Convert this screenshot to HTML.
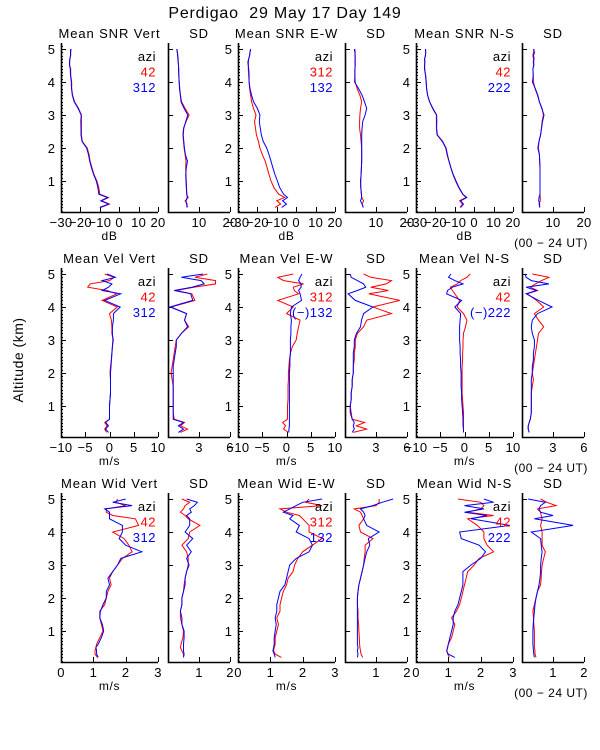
<!DOCTYPE html>
<html><head><meta charset="utf-8">
<style>
html,body{margin:0;padding:0;background:#fff;}
svg{display:block;font-family:"Liberation Sans",sans-serif;}
text{fill:#000;white-space:pre;}
</style></head>
<body>
<svg id="chart" width="600" height="750" viewBox="0 0 600 750" xmlns="http://www.w3.org/2000/svg" xml:space="preserve">
<text x="285" y="18" font-size="16" letter-spacing="0.8" text-anchor="middle">Perdigao  29 May 17 Day 149</text>
<text x="0" y="0" font-size="14" letter-spacing="0.5" text-anchor="middle" transform="translate(23,360) rotate(-90)">Altitude (km)</text>
</svg>
<script>
const alt = [0.2,0.3,0.4,0.5,0.6,0.8,1.0,1.2,1.4,1.6,1.8,2.0,2.2,2.4,2.6,2.8,3.0,3.2,3.4,3.6,3.8,4.0,4.2,4.4,4.5,4.6,4.7,4.8,4.9,5.0];

// Row 1: SNR
const snrVertRed = [-9.5,-5,-9,-5.5,-10,-10.5,-11.5,-13,-14,-15,-15.5,-16.5,-19,-19.5,-19.5,-19.5,-19.5,-21,-23,-24,-24.5,-24.5,-25,-25,-25.5,-25.5,-25.5,-25,-25,-24.8];
const snrVertBlue = [-10,-5.5,-9.5,-6,-10.5,-11,-11.8,-13.2,-14.3,-15.2,-15.8,-16.8,-19.2,-19.7,-19.7,-19.8,-19.6,-21.2,-23.2,-24.2,-24.6,-24.7,-25.1,-25.2,-25.6,-25.6,-25.4,-25.1,-25.1,-25];
const sdSnrVertRed = [6,6.2,5.5,6.5,6,6,5.9,5.8,5.7,5.8,5.5,5.2,5,4.8,5,5.8,6.8,5.5,4.4,4,3.8,3.6,3.5,3.5,3.4,3.3,3.3,3.2,3,2.8];
const sdSnrVertBlue = [6.3,6,5.8,6.2,6.1,5.9,5.8,5.7,5.9,6.3,5.6,5.3,5.1,4.9,5.1,5.7,6.4,5.2,4.2,4,3.7,3.6,3.5,3.4,3.4,3.3,3.2,3.1,3,2.9];
const snrEWRed = [-11,-8,-10,-6,-9,-11.5,-13,-14,-15,-16,-17.5,-18.7,-19.5,-20.5,-21,-21.5,-20.7,-22,-23,-23.5,-24,-24.3,-24.5,-24.7,-24.7,-25,-24.5,-24,-23.8,-23.5];
const snrEWBlue = [-7.5,-5,-7,-4.5,-6.5,-8.5,-9.7,-11,-12,-13,-14,-15.2,-17,-18,-18.5,-19,-18.7,-20,-22,-23,-23.8,-24.3,-24.3,-24.5,-24.7,-24.7,-24.5,-24,-23.8,-23.5];
const sdSnrEWRed = [5.9,5.5,6,5.4,5.3,5.1,5.1,5.2,5.3,5.4,5.4,5.4,5.2,5,4.7,4.7,4.8,5,5.4,4.8,3.9,3.3,3.2,3.2,3.3,3.3,3.3,3.2,3.3,3.2];
const sdSnrEWBlue = [5.9,5.5,5,5.4,5.3,5.1,5.0,5.2,5.3,5.4,5.4,5.4,5.4,5.4,5.5,5.7,6.5,7,6.3,5.5,4.4,3.1,3.2,3.2,3.3,3.2,3.3,3.3,3.2,3];
const snrNSRed = [-7.3,-6,-7.5,-4.2,-6,-8,-9.6,-11,-12,-13,-14,-14.7,-16.5,-19.2,-19.5,-19.5,-19.5,-21.5,-23,-24,-24.5,-24.7,-25,-25.5,-25.5,-25.5,-25.5,-25.2,-25,-25];
const snrNSBlue = [-7,-5.5,-7,-3.8,-5.8,-7.8,-9.4,-10.8,-12,-13,-13.8,-14.5,-16.3,-19,-19.4,-19.3,-19.4,-21.3,-23,-24,-24.6,-24.8,-25.1,-25.6,-25.6,-25.4,-25.6,-25.1,-25,-25.1];
const sdSnrNSRed = [5.8,5.5,5.9,5.9,5.8,5.8,5.8,5.8,5.8,5.7,5.6,5.3,5.5,6,6.3,6.5,6.9,6.5,5.6,5,4.2,3.7,3.6,3.5,3.8,3.8,3.7,3.5,3.7,3.9];
const sdSnrNSBlue = [5.6,5.7,5.4,5.5,5.8,5.8,5.8,5.8,5.8,5.7,5.6,5.1,5.5,6,6.3,6.6,7.1,6.4,5.6,5.1,4.3,3.4,3.6,3.5,3.8,3.6,3.9,3.7,4,3.7];

// Row 2: velocity
const velVertRed = [-0.6,-1,-0.5,-1,0,0,0,0.1,0.2,0.2,0.2,0.1,0.2,0.4,0.5,0.6,0.8,0.5,0.5,0.4,0,1.6,-1.5,1.5,-0.5,-4.5,-4,0,1,-1];
const velVertBlue = [-0.2,-0.8,-0.2,-0.8,0,0,0,0.1,0.2,0.2,0.2,0.2,0.3,0.4,0.5,0.6,0.7,0.6,0.6,0.8,0.8,2.2,-1,2.3,-1.5,-0.2,0.5,-1.5,1.2,-0.5];
const sdVelVertRed = [1.2,1.9,1.2,1.6,0.6,0.5,0.5,0.5,0.5,0.5,0.4,0.3,0.4,0.5,0.6,0.7,0.8,1.3,2.0,1.6,1.8,0.3,2.6,2.3,0.8,2.5,4.6,4.6,2.6,3.8];
const sdVelVertBlue = [1.0,1.5,1.0,1.5,0.5,0.5,0.5,0.5,0.5,0.5,0.5,0.5,0.5,0.6,0.7,0.8,0.8,1.3,1.9,1.6,1.8,0.2,2.4,2.2,0.6,2.3,3.5,3.2,1.3,3.4];
const velEWRed = [0.4,-0.6,-0.2,-0.8,0.2,0.2,0.2,0.3,0.3,0.3,0.4,0.4,0.5,0.6,0.8,1.2,2,2.2,2.5,2.8,0,1.4,-1.8,2.5,1.6,1.4,3.5,-0.6,-1.8,1.4];
const velEWBlue = [0.5,0.5,0.6,0.6,0.6,0.6,0.6,0.6,0.6,0.6,0.6,0.6,0.7,0.7,0.8,0.8,0.8,0.9,0.9,1,0.8,1,3.1,2.8,2.5,3,3,2.5,2.8,3.2];
const sdVelEWRed = [0.8,2.1,1.1,1.9,0.7,0.6,0.5,0.6,0.6,0.7,0.7,0.8,0.8,0.9,0.9,1,1.0,1.2,1.8,2.1,4.5,2.7,5.3,2.3,4.2,2.5,4.0,4.5,2.5,1.8];
const sdVelEWBlue = [0.7,0.9,0.8,0.9,0.7,0.5,0.5,0.6,0.6,0.7,0.7,0.8,0.8,0.8,0.8,0.9,0.9,1.1,1.5,1.6,1.8,2.7,1.0,0.3,1.2,2,1.8,1.2,0.6,0.5];
const velNSRed = [-0.2,-0.2,-0.2,-0.2,-0.2,-0.2,-0.3,-0.4,-0.5,-0.5,-0.5,-0.5,-0.5,-0.4,-0.4,-0.3,-0.3,-0.2,0.2,0.5,-0.2,-1.5,-1,-2,-2.5,-2.9,-1.5,-0.8,0.5,1.2];
const velNSBlue = [-0.2,-0.2,-0.3,-0.3,-0.3,-0.4,-0.5,-0.6,-0.6,-0.7,-0.7,-0.7,-0.8,-0.8,-0.9,-0.9,-1,-1,-1,-0.9,-0.8,-2,-0.6,-3.7,-3.5,-2.5,-0.3,-2,-3.3,-2.8];
const sdVelNSRed = [0.7,0.6,0.6,0.7,0.8,0.9,0.9,0.9,0.9,1,1.1,1.0,1.1,1.2,1.3,1.4,1.5,1.6,2.1,1.6,1.2,2.1,1.4,0.5,1.5,0.8,1.3,1.9,2.6,1.0];
const sdVelNSBlue = [0.7,0.6,0.6,0.7,0.8,0.9,0.9,0.9,0.9,0.9,0.9,1.0,1.0,1.1,1.1,1.2,1.2,1.0,0.9,1.0,1.5,2.9,1.6,0.4,1.4,0.4,2.6,0.9,0.4,0.3];

// Row 3: width
const widVertRed = [1.13,1.05,1.05,1.08,1.1,1.2,1.3,1.25,1.2,1.2,1.35,1.4,1.45,1.55,1.5,1.6,1.75,1.9,2.2,2.1,1.95,1.6,2.4,2.3,1.6,1.4,1.4,2.0,1.7,1.75];
const widVertBlue = [1.15,1.1,1.1,1.08,1.15,1.25,1.32,1.28,1.2,1.22,1.3,1.4,1.4,1.5,1.45,1.6,1.75,1.85,2.5,2.0,1.8,1.9,1.9,1.5,1.5,1.5,1.35,2.2,1.6,2.0];
const sdWidVertRed = [0.5,0.5,0.45,0.4,0.42,0.48,0.5,0.45,0.4,0.4,0.45,0.45,0.5,0.52,0.55,0.6,0.65,0.65,0.6,0.45,0.65,0.7,1.03,0.65,0.55,0.4,0.5,0.55,0.7,0.45];
const sdWidVertBlue = [0.5,0.52,0.5,0.5,0.5,0.52,0.52,0.45,0.45,0.4,0.45,0.45,0.5,0.55,0.55,0.6,0.68,0.6,0.75,0.6,0.8,0.55,0.7,0.7,0.6,0.75,0.7,0.85,0.95,0.6];
const widEWRed = [1.34,1.15,1.1,1.12,1.15,1.15,1.2,1.25,1.2,1.3,1.3,1.35,1.4,1.5,1.55,1.7,1.75,1.85,2.0,2.3,2.6,2.2,2.2,2.0,1.9,1.5,1.3,2.6,2.1,2.2];
const widEWBlue = [1.15,1.12,1.08,1.1,1.12,1.12,1.15,1.18,1.15,1.2,1.2,1.25,1.3,1.45,1.5,1.55,1.6,1.8,2.2,2.3,2.2,1.8,1.9,1.6,1.7,1.4,1.6,1.8,2.0,2.6];
const sdWidEWRed = [0.57,0.52,0.5,0.48,0.47,0.46,0.45,0.44,0.42,0.42,0.4,0.4,0.42,0.45,0.5,0.55,0.6,0.62,0.65,0.65,0.9,0.5,0.45,0.6,0.55,0.5,0.3,1.0,1.1,1.1];
const sdWidEWBlue = [0.4,0.42,0.4,0.42,0.4,0.4,0.4,0.4,0.4,0.4,0.4,0.4,0.42,0.45,0.5,0.55,0.6,0.65,0.7,0.8,0.75,1.1,0.7,0.6,0.65,0.6,0.5,0.9,1.2,1.55];
const widNSRed = [1.03,0.98,0.95,0.97,1.0,1.1,1.15,1.2,1.1,1.25,1.35,1.4,1.45,1.5,1.55,1.6,1.8,1.95,2.4,2.2,2.1,2.1,1.9,1.6,2.4,1.6,2.0,2.1,2.0,1.3];
const widNSBlue = [1.2,1.0,0.95,0.98,1.0,1.05,1.1,1.15,1.15,1.2,1.3,1.35,1.4,1.45,1.45,1.45,1.7,2.0,2.15,1.95,1.4,1.35,2.9,1.7,2.2,1.5,2.1,1.5,2.4,2.1];
const sdWidNSRed = [0.45,0.42,0.42,0.4,0.4,0.4,0.4,0.38,0.37,0.35,0.4,0.45,0.5,0.6,0.62,0.63,0.65,0.7,0.75,0.65,0.65,0.65,0.6,0.65,0.62,0.6,0.5,1.1,0.8,0.6];
const sdWidNSBlue = [0.4,0.38,0.37,0.36,0.35,0.35,0.35,0.36,0.38,0.4,0.42,0.45,0.5,0.55,0.58,0.6,0.6,0.62,0.65,0.62,0.6,0.3,1.65,0.4,1.0,0.6,0.55,0.6,0.75,0.2];

const snrTicks = [-30,-20,-10,0,10,20];
const snrSdTicks = [0,10,20];
const velTicks = [-10,-5,0,5,10];
const velSdTicks = [0,3,6];
const widTicks = [0,1,2,3];
const widSdTicks = [0,1,2];
const altTicks = [1,2,3,4,5];

const svg = document.getElementById('chart');
const NS = 'http://www.w3.org/2000/svg';
function mk(tag, attrs, parent){
  const e = document.createElementNS(NS, tag);
  for (const k in attrs) e.setAttribute(k, attrs[k]);
  (parent||svg).appendChild(e);
  return e;
}

const colX = [{l:61,w:97,mean:true},{l:168,w:62,mean:false},{l:238,w:97,mean:true},{l:345,w:62,mean:false},{l:416,w:97,mean:true},{l:522,w:62,mean:false}];
const rows = [
  {key:'snr', unit:'dB', meanTicks:snrTicks, sdTicks:snrSdTicks, titles:['Mean SNR Vert','SD','Mean SNR E-W','SD','Mean SNR N-S','SD'],
   series:[[snrVertRed,snrVertBlue],[sdSnrVertRed,sdSnrVertBlue],[snrEWRed,snrEWBlue],[sdSnrEWRed,sdSnrEWBlue],[snrNSRed,snrNSBlue],[sdSnrNSRed,sdSnrNSBlue]],
   legends:[['42','312'],null,['312','132'],null,['42','222'],null]},
  {key:'vel', unit:'m/s', meanTicks:velTicks, sdTicks:velSdTicks, titles:['Mean Vel Vert','SD','Mean Vel E-W','SD','Mean Vel N-S','SD'],
   series:[[velVertRed,velVertBlue],[sdVelVertRed,sdVelVertBlue],[velEWRed,velEWBlue],[sdVelEWRed,sdVelEWBlue],[velNSRed,velNSBlue],[sdVelNSRed,sdVelNSBlue]],
   legends:[['42','312'],null,['312','(\u2212)132'],null,['42','(\u2212)222'],null]},
  {key:'wid', unit:'m/s', meanTicks:widTicks, sdTicks:widSdTicks, titles:['Mean Wid Vert','SD','Mean Wid E-W','SD','Mean Wid N-S','SD'],
   series:[[widVertRed,widVertBlue],[sdWidVertRed,sdWidVertBlue],[widEWRed,widEWBlue],[sdWidEWRed,sdWidEWBlue],[widNSRed,widNSBlue],[sdWidNSRed,sdWidNSBlue]],
   legends:[['42','312'],null,['312','132'],null,['42','222'],null]}
];

rows.forEach((row, ri) => {
  const off = ri*225;
  const top = 43+off, bot = 212+off;
  const yS = h => 214 + off - 33*h;
  colX.forEach((c, ci) => {
    const ticks = c.mean ? row.meanTicks : row.sdTicks;
    const xmin = ticks[0], xmax = ticks[ticks.length-1];
    const xS = v => c.l + (v - xmin) / (xmax - xmin) * c.w;
    const g = mk('g', {});
    
    
    const t = mk('text', {x:c.l + c.w/2, y:top-5, 'font-size':13, 'letter-spacing':0.9, 'text-anchor':'middle'}, g);
    t.textContent = row.titles[ci];
    
    
    const ax = mk('path', {d:`M${c.l+0.5},${top} V${bot+0.5} H${c.l+c.w}`, stroke:'#000', 'stroke-width':1.6, fill:'none'}, g);
    
    
    for (let h=0.1; h<=5.15; h+=0.1) {
      const major = Math.abs(h - Math.round(h)) < 0.01;
      if (!c.mean && !major) continue;
      const y = Math.round(yS(h)) + 0.5;
      mk('line', {x1:c.l, x2:c.l + (major?5:2), y1:y, y2:y, stroke:'#000', 'stroke-width':1}, g);
    }
    if (c.mean) {
      altTicks.forEach(h => {
        const lt = mk('text', {x:c.l-6, y:yS(h)+5, 'font-size':13, 'text-anchor':'end'}, g);
        lt.textContent = h;
        
        
      });
    }
    ticks.forEach((v, i) => {
      const x = Math.round(xS(v)) + 0.5;
      mk('line', {x1:x, x2:x, y1:bot, y2:bot-5, stroke:'#000', 'stroke-width':1}, g);
      if (!c.mean && i === 0) return;
      const xt = mk('text', {x:xS(v), y:bot+15, 'font-size':13, 'letter-spacing':0.3, 'text-anchor':'middle'}, g);
      xt.textContent = String(v).replace('-', '\u2212');
      
      
    });
    if (c.mean) {
      const ul = mk('text', {x:c.l + c.w/2, y:bot+28, 'font-size':12, 'letter-spacing':0.6, 'text-anchor':'middle'}, g);
      ul.textContent = row.unit;
      
      
    }
    if (ci === 5) {
      const ut = mk('text', {x:c.l + c.w/2 - 2, y:bot+35, 'font-size':12, 'letter-spacing':0.5, 'text-anchor':'middle'}, g);
      ut.textContent = '(00 \u2212 24 UT)';
      
      
    }
    const colors = ['#ff0000', '#0000ff'];
    row.series[ci].forEach((vals, si) => {
      let d = '';
      vals.forEach((v, k) => { d += (k ? 'L' : 'M') + xS(v).toFixed(1) + ',' + yS(alt[k]).toFixed(1); });
      const p = mk('path', {d:d, stroke:colors[si], 'stroke-width':1, fill:'none'}, g);
      
      
    });
    const lg = row.legends[ci];
    if (lg) {
      const rx = c.l + c.w - 2;
      const items = [['azi', '#000'], [lg[0], '#ff0000'], [lg[1], '#0000ff']];
      items.forEach((it, k) => {
        const lt = mk('text', {x:rx, y:top+18+k*15.5, 'font-size':13, 'letter-spacing':0.5, 'text-anchor':'end', style:'fill:'+it[1]}, g);
        lt.textContent = it[0];
        
        
      });
    }
  });
});
</script>
</body></html>
